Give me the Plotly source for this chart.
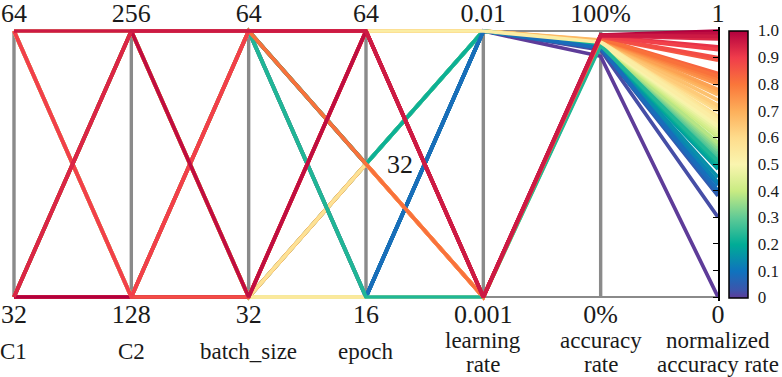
import numpy as np
import pandas as pd
import plotly.graph_objects as go
from plotly.colors import sample_colorscale

# ---------------- data (rows listed in drawing order) ----------------
C1 = [64, 32, 64, 32, 64, 32, 32,
      32, 32, 64, 64, 32, 64, 32,
      32, 32, 64, 64, 32, 32,
      64, 64, 32, 64, 32, 32, 32,
      64, 64, 32, 32, 32, 32,
      64, 32,
      64, 64, 64, 64, 64, 64, 64, 32, 64, 64, 32, 32, 64]
C2 = [128, 256, 256, 128, 128, 256, 128,
      256, 128, 128, 256, 256, 128, 128,
      256, 128, 128, 256, 256, 128,
      128, 256, 256, 128, 128, 256, 128,
      256, 128, 256, 128, 256, 128,
      256, 128,
      128, 128, 256, 256, 256, 256, 256, 128, 128, 128, 256, 256, 256]
batch_size = [64, 64, 32, 64, 32, 32, 32,
              64, 64, 64, 32, 32, 32, 32,
              64, 64, 64, 32, 32, 32,
              64, 32, 64, 32, 64, 32, 32,
              32, 64, 32, 32, 64, 64,
              32, 64,
              32, 32, 64, 64, 64, 64, 64, 32, 32, 64, 32, 64, 64]
epoch = [16, 16, 16, 16, 16, 16, 16,
         32, 32, 32, 32, 32, 32, 32,
         16, 16, 16, 16, 16, 16,
         64, 64, 64, 64, 64, 64, 64,
         32, 32, 32, 32, 32, 32,
         64, 64,
         32, 16, 32, 16, 16, 32, 64, 64, 64, 64, 64, 64, 64]
learning_rate = [0.01, 0.01, 0.01, 0.01, 0.01, 0.01, 0.01,
                 0.01, 0.01, 0.01, 0.01, 0.01, 0.01, 0.01,
                 0.001, 0.001, 0.001, 0.001, 0.001, 0.001,
                 0.01, 0.01, 0.01, 0.01, 0.01, 0.01, 0.01,
                 0.001, 0.001, 0.001, 0.001, 0.001, 0.001,
                 0.001, 0.001,
                 0.001, 0.001, 0.01, 0.01, 0.001, 0.001, 0.01, 0.001, 0.001, 0.001, 0.001, 0.001, 0.001]
accuracy = [90.50, 92.90, 93.54, 93.62, 93.86, 93.94, 94.10,
            94.34, 94.42, 94.66, 94.74, 94.82, 94.90, 94.98,
            95.06, 95.14, 95.30, 95.38, 95.46, 95.54,
            95.62, 95.70, 96.10, 96.18, 96.26, 96.42, 96.58,
            96.66, 96.74, 96.90, 96.98, 97.06, 97.22,
            97.62, 98.02,
            95.94, 95.86, 94.50, 93.70, 94.58, 97.14, 95.78, 98.50, 97.70, 97.94, 98.42, 98.26, 98.34]

acc = np.array(accuracy)
normalized_accuracy = (acc - acc.min()) / (acc.max() - acc.min())

# ---------------- dimensions ----------------
dim_values = [C1, C2, batch_size, epoch, learning_rate, accuracy, list(normalized_accuracy)]
dim_lo = [32, 128, 32, 16, 0.001, 0, 0]
dim_hi = [64, 256, 64, 64, 0.01, 100, 1]
dim_log = [False, False, False, True, True, False, False]
top_ticks = ['64', '256', '64', '64', '0.01', '100%', '1']
bottom_ticks = ['32', '128', '32', '16', '0.001', '0%', '0']
dim_labels = [['C1'], ['C2'], ['batch_size'], ['epoch'],
              ['learning', 'rate'], ['accuracy', 'rate'], ['normalized', 'accuracy rate']]
epoch_mid_label = 32

cb_vals = [0, 0.1, 0.2, 0.3, 0.4, 0.5, 0.6, 0.7, 0.8, 0.9, 1.0]
cb_text = ['0', '0.1', '0.2', '0.3', '0.4', '0.5', '0.6', '0.7', '0.8', '0.9', '1.0']

colorscale = [
    [0.00, 'rgb(94,60,153)'],
    [0.03, 'rgb(60,85,172)'],
    [0.10, 'rgb(15,115,190)'],
    [0.20, 'rgb(0,172,150)'],
    [0.30, 'rgb(95,202,150)'],
    [0.40, 'rgb(200,235,130)'],
    [0.50, 'rgb(250,245,175)'],
    [0.60, 'rgb(254,220,140)'],
    [0.70, 'rgb(253,175,90)'],
    [0.80, 'rgb(250,118,58)'],
    [0.90, 'rgb(240,60,75)'],
    [1.00, 'rgb(178,0,62)'],
]


def scale(v, lo, hi, lg):
    v = np.asarray(v, dtype=float)
    if lg:
        return (np.log(v) - np.log(lo)) / (np.log(hi) - np.log(lo))
    return (v - lo) / (hi - lo)


Y = np.column_stack([scale(v, lo, hi, lg) for v, lo, hi, lg in zip(dim_values, dim_lo, dim_hi, dim_log)])
n_rows, n_dims = Y.shape
xs = list(range(n_dims))

rank = pd.Series(acc).rank(method='first').to_numpy() - 1
cval = rank / (n_rows - 1)
line_colors = sample_colorscale(colorscale, list(cval))

FONT = 'Times New Roman'
TXT = '#1a1a1a'
fig = go.Figure()

for i in range(n_rows):
    fig.add_trace(go.Scatter(x=xs, y=Y[i], mode='lines',
                             line=dict(color=line_colors[i], width=3.7),
                             hoverinfo='skip', showlegend=False))

# dummy trace for colorbar + secondary axes
fig.add_trace(go.Scatter(
    x=[None], y=[None], xaxis='x2', yaxis='y2', mode='markers', showlegend=False,
    marker=dict(color=[0], cmin=0, cmax=1, colorscale=colorscale, showscale=True,
                colorbar=dict(x=1.0155, xanchor='left', xpad=0, y=0.5, yanchor='middle',
                              len=267, lenmode='pixels', ypad=0, thickness=19,
                              outlinewidth=1.5, outlinecolor='black',
                              tickvals=cb_vals, ticktext=cb_text, ticks='outside',
                              ticklen=6, tickcolor='rgba(0,0,0,0)',
                              tickfont=dict(family=FONT, size=17, color=TXT))),
))

pad_y = 0.015
xr = [-0.034, n_dims - 1]
yr = [-pad_y, 1 + pad_y]

shapes = []
for i in range(n_dims - 1):
    shapes.append(dict(type='line', xref='x', yref='y', x0=i, x1=i, y0=0, y1=1,
                       line=dict(color='#8a8a8a', width=3.4), layer='below'))
for yy in (0, 1):
    shapes.append(dict(type='line', xref='x', yref='y', x0=0, x1=n_dims - 1, y0=yy, y1=yy,
                       line=dict(color='#8a8a8a', width=2), layer='below'))

annotations = []
for i, lines in enumerate(dim_labels):
    if len(lines) == 1:
        shifts = [-50]
    else:
        shifts = [-39, -63]
    for txt, sh in zip(lines, shifts):
        annotations.append(dict(x=i, xref='x', y=0, yref='paper', yshift=sh, text=txt,
                                showarrow=False, xanchor='center', yanchor='middle',
                                font=dict(family=FONT, size=23, color=TXT)))
ep_i = 3
annotations.append(dict(x=ep_i, xref='x',
                        y=float(scale([epoch_mid_label], dim_lo[ep_i], dim_hi[ep_i], dim_log[ep_i])[0]),
                        yref='y', text=str(epoch_mid_label), showarrow=False,
                        xanchor='left', yanchor='middle', xshift=19,
                        font=dict(family=FONT, size=26, color=TXT)))

fig.update_layout(
    width=782, height=377,
    margin=dict(l=10, r=64, t=27, b=76, autoexpand=False),
    paper_bgcolor='white', plot_bgcolor='white',
    shapes=shapes, annotations=annotations,
    xaxis=dict(range=xr, tickvals=xs, ticktext=bottom_ticks, showgrid=False, zeroline=False,
               showline=False, ticks='', tickfont=dict(family=FONT, size=26, color=TXT),
               automargin=False, anchor='free', position=0.019, ticklabeloverflow='allow'),
    yaxis=dict(range=yr, visible=False, automargin=False),
    xaxis2=dict(range=xr, overlaying='x', side='top', anchor='free', position=1.0,
                tickvals=xs, ticktext=top_ticks,
                showgrid=False, zeroline=False, showline=False, ticks='', automargin=False,
                tickfont=dict(family=FONT, size=26, color=TXT), ticklabeloverflow='allow'),
    yaxis2=dict(range=yr, overlaying='y', side='right', anchor='x2', showgrid=False, zeroline=False,
                showline=True, linecolor='black', linewidth=1.5, ticks='inside', ticklen=5,
                tickwidth=1.3, tickcolor='black', tick0=0, dtick=0.1, showticklabels=False,
                automargin=False),
)

fig.write_html('out.html', config={'displayModeBar': False},
               post_script="document.body.style.margin='0';")
